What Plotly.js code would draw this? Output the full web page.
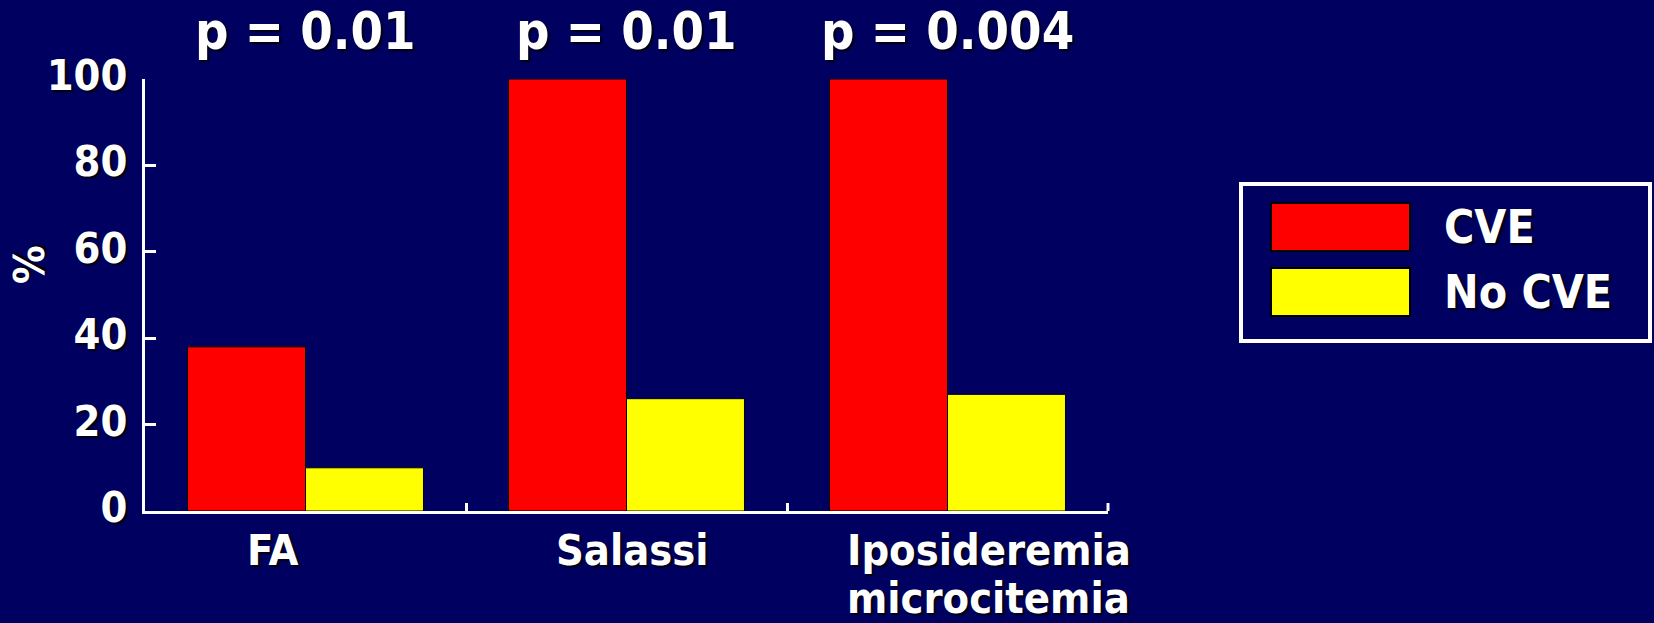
<!DOCTYPE html>
<html>
<head>
<meta charset="utf-8">
<script src="https://cdn.plot.ly/plotly-3.0.1.min.js"></script>
<style>
  html, body { margin: 0; padding: 0; background: #000060; }
  #chart { width: 1654px; height: 623px; }
</style>
</head>
<body>
<div id="chart"></div>
<script>
// Categories and series values (%)
const categories = ["FA", "Salassi", "Iposideremia<br>microcitemia"];
const cveValues = [38, 100, 100];
const noCveValues = [10, 26, 27];
const seriesNames = ["CVE", "No CVE"];
const seriesColors = ["#FF0000", "#FFFF00"];
const pValues = ["p = 0.01", "p = 0.01", "p = 0.004"];
const yTicks = [0, 20, 40, 60, 80, 100];
const yTitle = "%";
// horizontal nudges for the category captions (pixels)
const captionShift = [-33, 6, 41];

const W = 1654, H = 623;
const margin = { l: 145, r: 546, t: 79, b: 112 };
const plotW = W - margin.l - margin.r;
const plotH = H - margin.t - margin.b;
// pixel position -> paper fraction
const px = x => (x - margin.l) / plotW;
const py = y => (H - margin.b - y) / plotH;

const FONT = "'DejaVu Sans Condensed', 'DejaVu Sans', Verdana, sans-serif";
const SHADOW = "2px 2px 2px rgba(0,0,0,0.85)";
const txt = (size) => ({ family: FONT, size: size, color: "#FFFFFF", weight: "bold", shadow: SHADOW });

const traces = [
  { type: "bar", name: seriesNames[0], x: categories, y: cveValues,
    marker: { color: seriesColors[0], line: { color: "#000000", width: 1 } },
    showlegend: false, hoverinfo: "x+y+name" },
  { type: "bar", name: seriesNames[1], x: categories, y: noCveValues,
    marker: { color: seriesColors[1], line: { color: "#000000", width: 1 } },
    showlegend: false, hoverinfo: "x+y+name" }
];

const annotations = [];
// p-values above each group
categories.forEach((c, i) => {
  annotations.push({ xref: "x", yref: "paper", x: c, y: 1, yanchor: "middle",
    yshift: 48, text: pValues[i], showarrow: false, font: txt(52) });
});
// category captions below the axis, one annotation per line for tight leading
const captionLead = 48;
categories.forEach((c, i) => {
  c.split("<br>").forEach((line, k) => {
    annotations.push({ xref: "x", yref: "paper", x: c, y: 0, yanchor: "top",
      xshift: captionShift[i], yshift: -12 - k * captionLead, text: line, showarrow: false,
      font: txt(43), align: "center" });
  });
});
// rotated y title
annotations.push({ xref: "paper", yref: "paper", x: px(29), y: py(265),
  xanchor: "center", yanchor: "middle", text: yTitle, textangle: -90,
  showarrow: false, font: txt(43) });

const shapes = [
  // closing tick at the right end of the category axis
  { type: "line", xref: "paper", yref: "paper", ysizemode: "pixel", yanchor: 0,
    x0: 1, x1: 1, y0: 0, y1: 8, line: { color: "#FFFFFF", width: 3 } },
  // legend frame
  { type: "rect", xref: "paper", yref: "paper", x0: px(1241), x1: px(1650), y0: py(341), y1: py(184),
    line: { color: "#FFFFFF", width: 4 }, fillcolor: "rgba(0,0,0,0)" }
];
const swatchTop = [203, 268];
seriesNames.forEach((name, i) => {
  shapes.push({ type: "rect", xref: "paper", yref: "paper",
    x0: px(1271), x1: px(1410), y0: py(swatchTop[i] + 48), y1: py(swatchTop[i]),
    fillcolor: seriesColors[i], line: { color: "#000000", width: 2 } });
  annotations.push({ xref: "paper", yref: "paper", x: px(1442), y: py(swatchTop[i] + 24),
    xanchor: "left", yanchor: "middle", text: name, showarrow: false, font: txt(46) });
});

const layout = {
  width: W, height: H,
  margin: margin,
  paper_bgcolor: "#000060",
  plot_bgcolor: "#000060",
  barmode: "group",
  bargap: 0.265,
  bargroupgap: 0,
  showlegend: false,
  xaxis: {
    type: "category",
    range: [-0.5, categories.length - 0.5],
    showticklabels: false,
    showline: true, linecolor: "#FFFFFF", linewidth: 3,
    ticks: "inside", tickson: "boundaries", ticklen: 8, tickwidth: 3, tickcolor: "#FFFFFF",
    showgrid: false, zeroline: false, fixedrange: true
  },
  yaxis: {
    range: [0, 100],
    tickvals: yTicks,
    ticktext: yTicks.map(String),
    showline: true, linecolor: "#FFFFFF", linewidth: 3,
    ticks: "inside", ticklen: 11, tickwidth: 3, tickcolor: "#FFFFFF",
    tickfont: txt(43),
    ticklabelshift: -4,
    ticklabelstandoff: 6,
    showgrid: false, zeroline: false, fixedrange: true
  },
  annotations: annotations,
  shapes: shapes
};

Plotly.newPlot("chart", traces, layout, { displayModeBar: false, staticPlot: true });
</script>
</body>
</html>
